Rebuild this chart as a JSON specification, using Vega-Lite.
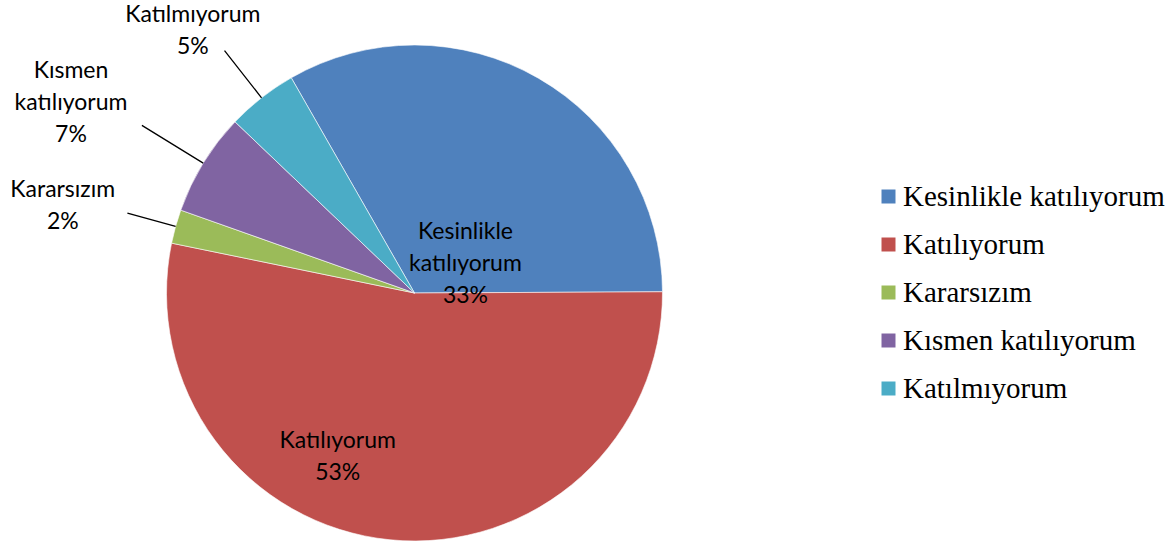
{
  "$schema": "https://vega.github.io/schema/vega-lite/v6.json",
  "width": 829,
  "height": 586,
  "autosize": "none",
  "padding": {"left": 0, "top": 0, "right": 344, "bottom": 0},
  "background": "white",
  "data": {
    "values": [
      {"category": "Kesinlikle katılıyorum", "value": 33.2, "rank": 1, "label": "Kesinlikle\nkatılıyorum\n33%"},
      {"category": "Katılıyorum", "value": 53.3, "rank": 2, "label": "Katılıyorum\n53%"},
      {"category": "Kararsızım", "value": 2.2, "rank": 3, "label": "Kararsızım\n2%"},
      {"category": "Kısmen katılıyorum", "value": 6.7, "rank": 4, "label": "Kısmen\nkatılıyorum\n7%"},
      {"category": "Katılmıyorum", "value": 4.6, "rank": 5, "label": "Katılmıyorum\n5%"}
    ]
  },
  "encoding": {
    "theta": {"field": "value", "type": "quantitative", "stack": true, "scale": {"domain": [0, 100], "range": [-0.5201, 5.7631]}},
    "order": {"field": "rank", "type": "quantitative"}
  },
  "layer": [
    {
      "mark": {"type": "arc", "outerRadius": 248, "stroke": "white", "strokeWidth": 0.6},
      "encoding": {
        "color": {
          "field": "category",
          "type": "nominal",
          "scale": {
            "domain": ["Kesinlikle katılıyorum", "Katılıyorum", "Kararsızım", "Kısmen katılıyorum", "Katılmıyorum"],
            "range": ["#4F81BD", "#C0504D", "#9BBB59", "#8064A2", "#4BACC6"]
          },
          "legend": {"title": null, "orient": "none", "legendX": 874, "legendY": 182}
        }
      }
    },
    {
      "mark": {"type": "arc", "innerRadius": 248, "outerRadius": 308, "padAngle": 1.2, "filled": false, "stroke": "black", "strokeWidth": 1.3},
      "encoding": {
        "detail": {"field": "category"},
        "strokeOpacity": {"condition": {"test": "datum.category === 'Katılmıyorum'", "value": 1}, "value": 0}
      }
    },
    {
      "mark": {"type": "arc", "innerRadius": 248, "outerRadius": 320, "padAngle": 1.2, "filled": false, "stroke": "black", "strokeWidth": 1.3},
      "encoding": {
        "detail": {"field": "category"},
        "strokeOpacity": {"condition": {"test": "datum.category === 'Kısmen katılıyorum'", "value": 1}, "value": 0}
      }
    },
    {
      "mark": {"type": "arc", "innerRadius": 248, "outerRadius": 298, "padAngle": 1.2, "filled": false, "stroke": "black", "strokeWidth": 1.3},
      "encoding": {
        "detail": {"field": "category"},
        "strokeOpacity": {"condition": {"test": "datum.category === 'Kararsızım'", "value": 1}, "value": 0}
      }
    },
    {
      "mark": {"type": "text", "radius": 60, "dx": 21, "dy": -9, "font": "Lato", "fontSize": 23, "lineHeight": 32, "lineBreak": "\n", "align": "center", "baseline": "middle", "color": "black"},
      "encoding": {
        "detail": {"field": "category"},
        "text": {"condition": {"test": "datum.category === 'Kesinlikle katılıyorum'", "field": "label"}, "value": ""}
      }
    },
    {
      "mark": {"type": "text", "radius": 170, "dx": -60, "dy": -21, "font": "Lato", "fontSize": 23, "lineHeight": 32, "lineBreak": "\n", "align": "center", "baseline": "middle", "color": "black"},
      "encoding": {
        "detail": {"field": "category"},
        "text": {"condition": {"test": "datum.category === 'Katılıyorum'", "field": "label"}, "value": ""}
      }
    },
    {
      "mark": {"type": "text", "radius": 362, "dx": -3, "dy": -6, "font": "Lato", "fontSize": 23, "lineHeight": 32, "lineBreak": "\n", "align": "center", "baseline": "middle", "color": "black"},
      "encoding": {
        "detail": {"field": "category"},
        "text": {"condition": {"test": "datum.category === 'Kararsızım'", "field": "label"}, "value": ""}
      }
    },
    {
      "mark": {"type": "text", "radius": 395, "dx": -7, "dy": -15, "font": "Lato", "fontSize": 23, "lineHeight": 32, "lineBreak": "\n", "align": "center", "baseline": "middle", "color": "black"},
      "encoding": {
        "detail": {"field": "category"},
        "text": {"condition": {"test": "datum.category === 'Kısmen katılıyorum'", "field": "label"}, "value": ""}
      }
    },
    {
      "mark": {"type": "text", "radius": 340, "dx": -12, "dy": -10, "font": "Lato", "fontSize": 23, "lineHeight": 32, "lineBreak": "\n", "align": "center", "baseline": "middle", "color": "black"},
      "encoding": {
        "detail": {"field": "category"},
        "text": {"condition": {"test": "datum.category === 'Katılmıyorum'", "field": "label"}, "value": ""}
      }
    }
  ],
  "config": {
    "view": {"stroke": null},
    "legend": {
      "symbolType": "square",
      "symbolSize": 196,
      "symbolStrokeWidth": 0,
      "labelFont": "Liberation Serif",
      "labelFontSize": 29,
      "labelColor": "black",
      "labelLimit": 400,
      "labelOffset": 0,
      "rowPadding": 18,
      "padding": 0
    }
  }
}
